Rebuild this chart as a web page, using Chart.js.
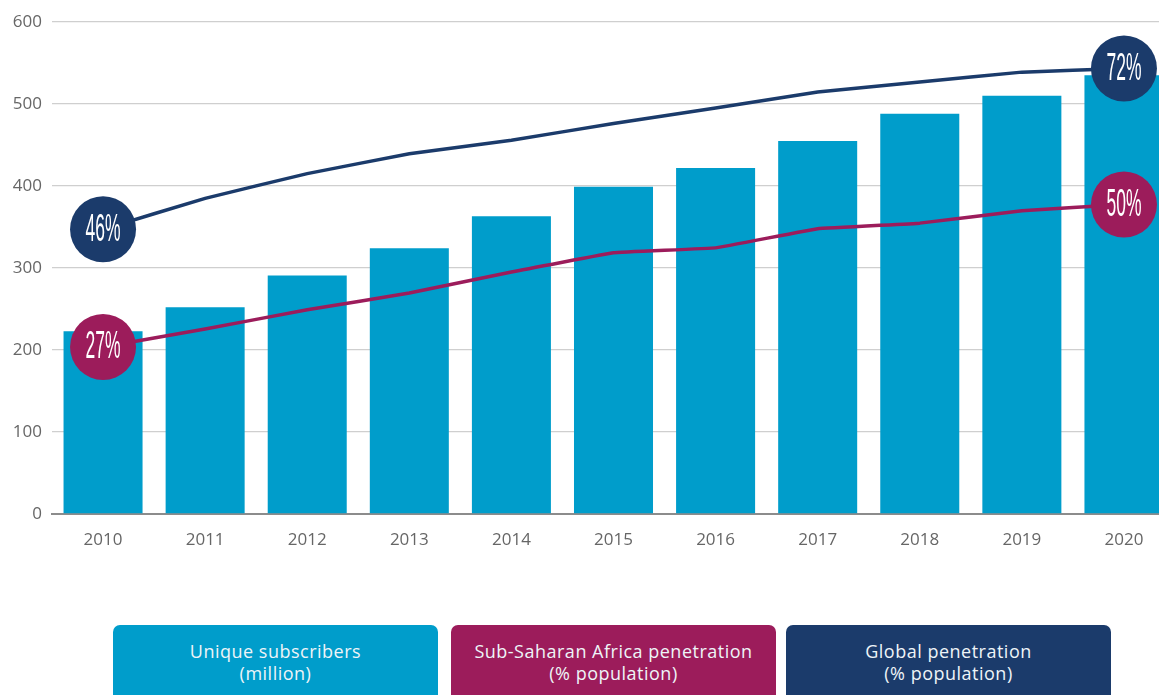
<!DOCTYPE html>
<html>
<head>
<meta charset="utf-8">
<script src="https://cdn.jsdelivr.net/npm/chart.js@4/dist/chart.umd.min.js"></script>
<style>
  body { margin: 0; background: #fff; overflow: hidden; width: 1159px; height: 695px; position: relative; }
  #c { position: absolute; left: 0; top: 0; }
  .legend { position: absolute; top: 625px; height: 76px; width: 325px; border-radius: 7px;
    color: #eef4f8; font: 18px "Open Sans", sans-serif; letter-spacing: 0.5px; line-height: 22px; text-align: center;
    box-sizing: border-box; padding-top: 15px; }
</style>
</head>
<body>
<canvas id="c" width="1175" height="560"></canvas>
<div class="legend" style="left:113px;background:#009dcb">Unique subscribers<br>(million)</div>
<div class="legend" style="left:451px;background:#9c1c5b">Sub-Saharan Africa penetration<br>(% population)</div>
<div class="legend" style="left:786px;background:#1b3b6b">Global penetration<br>(% population)</div>
<script>
const years = ['2010','2011','2012','2013','2014','2015','2016','2017','2018','2019','2020']
const subscribers = [223, 252, 291, 324, 363, 399, 422, 455, 488, 510, 535]
const ssaPenetration = [27, 29.9, 33, 35.7, 39.1, 42.2, 43, 46.1, 47, 49, 50]
const globalPenetration = [46, 51, 55, 58.2, 60.4, 63.1, 65.6, 68.2, 69.8, 71.4, 72]
const yTicks = [0, 100, 200, 300, 400, 500, 600]

const blue = '#009dcb', plum = '#9c1c5b', navy = '#1b3b6b'
const ends = (ctx) => (ctx.dataIndex === 0 || ctx.dataIndex === years.length - 1) ? 33 : 0

// white % labels inside the end circles
const endLabels = {
  id: 'endLabels',
  afterDatasetsDraw(chart) {
    const ctx = chart.ctx
    ;[1, 2].forEach(di => {
      const meta = chart.getDatasetMeta(di)
      const vals = chart.data.datasets[di].data
      ;[0, vals.length - 1].forEach(i => {
        const p = meta.data[i]
        const txt = Math.round(vals[i]) + '%'
        ctx.save()
        ctx.font = '38px "Liberation Sans", sans-serif'
        const w = ctx.measureText(txt).width
        const sx = 35 / w
        ctx.translate(p.x, p.y + 1)
        ctx.scale(sx, 1)
        ctx.fillStyle = '#ffffff'
        ctx.textAlign = 'center'
        ctx.textBaseline = 'middle'
        ctx.fillText(txt, 0, 0)
        ctx.restore()
      })
    })
  }
}

new Chart(document.getElementById('c'), {
  type: 'bar',
  data: {
    labels: years,
    datasets: [
      { type: 'bar', label: 'Unique subscribers (million)', data: subscribers, backgroundColor: blue,
        categoryPercentage: 1, barPercentage: 0.774, yAxisID: 'y', order: 3 },
      { type: 'line', label: 'Sub-Saharan Africa penetration', data: ssaPenetration, borderColor: plum,
        backgroundColor: plum, borderWidth: 3.5, tension: 0.05, pointRadius: ends, pointHoverRadius: ends,
        pointBorderWidth: 0, yAxisID: 'y1', clip: false, order: 2 },
      { type: 'line', label: 'Global penetration', data: globalPenetration, borderColor: navy,
        backgroundColor: navy, borderWidth: 3.5, tension: 0.05, pointRadius: ends, pointHoverRadius: ends,
        pointBorderWidth: 0, yAxisID: 'y1', clip: false, order: 1 }
    ]
  },
  options: {
    responsive: false,
    animation: false,
    layout: { autoPadding: false, padding: { top: 22, left: 0, right: 0, bottom: 0 } },
    plugins: { legend: { display: false }, tooltip: { enabled: false } },
    scales: {
      x: {
        offset: true,
        grid: { display: false },
        border: { display: true, color: '#8c8c8c', width: 2, dash: [90, 12], dashOffset: 96 },
        ticks: { color: '#666', font: { family: 'Open Sans', size: 17 }, padding: 8, maxRotation: 0 },
        afterFit: (s) => { s.height = 46 }
      },
      y: {
        min: 0, max: 600,
        afterBuildTicks: (s) => { s.ticks = yTicks.map(v => ({ value: v })) },
        grid: { color: (c) => c.tick && c.tick.value === 0 ? 'rgba(0,0,0,0)' : '#cfcfcf', lineWidth: 1.3, drawTicks: false },
        border: { display: false },
        ticks: { color: '#666', font: { family: 'Open Sans', size: 17 }, padding: 10 },
        afterFit: (s) => { s.width = 52 }
      },
      y1: { display: false, min: 0, max: 79.5 }
    }
  },
  plugins: [endLabels]
})
</script>
</body>
</html>
